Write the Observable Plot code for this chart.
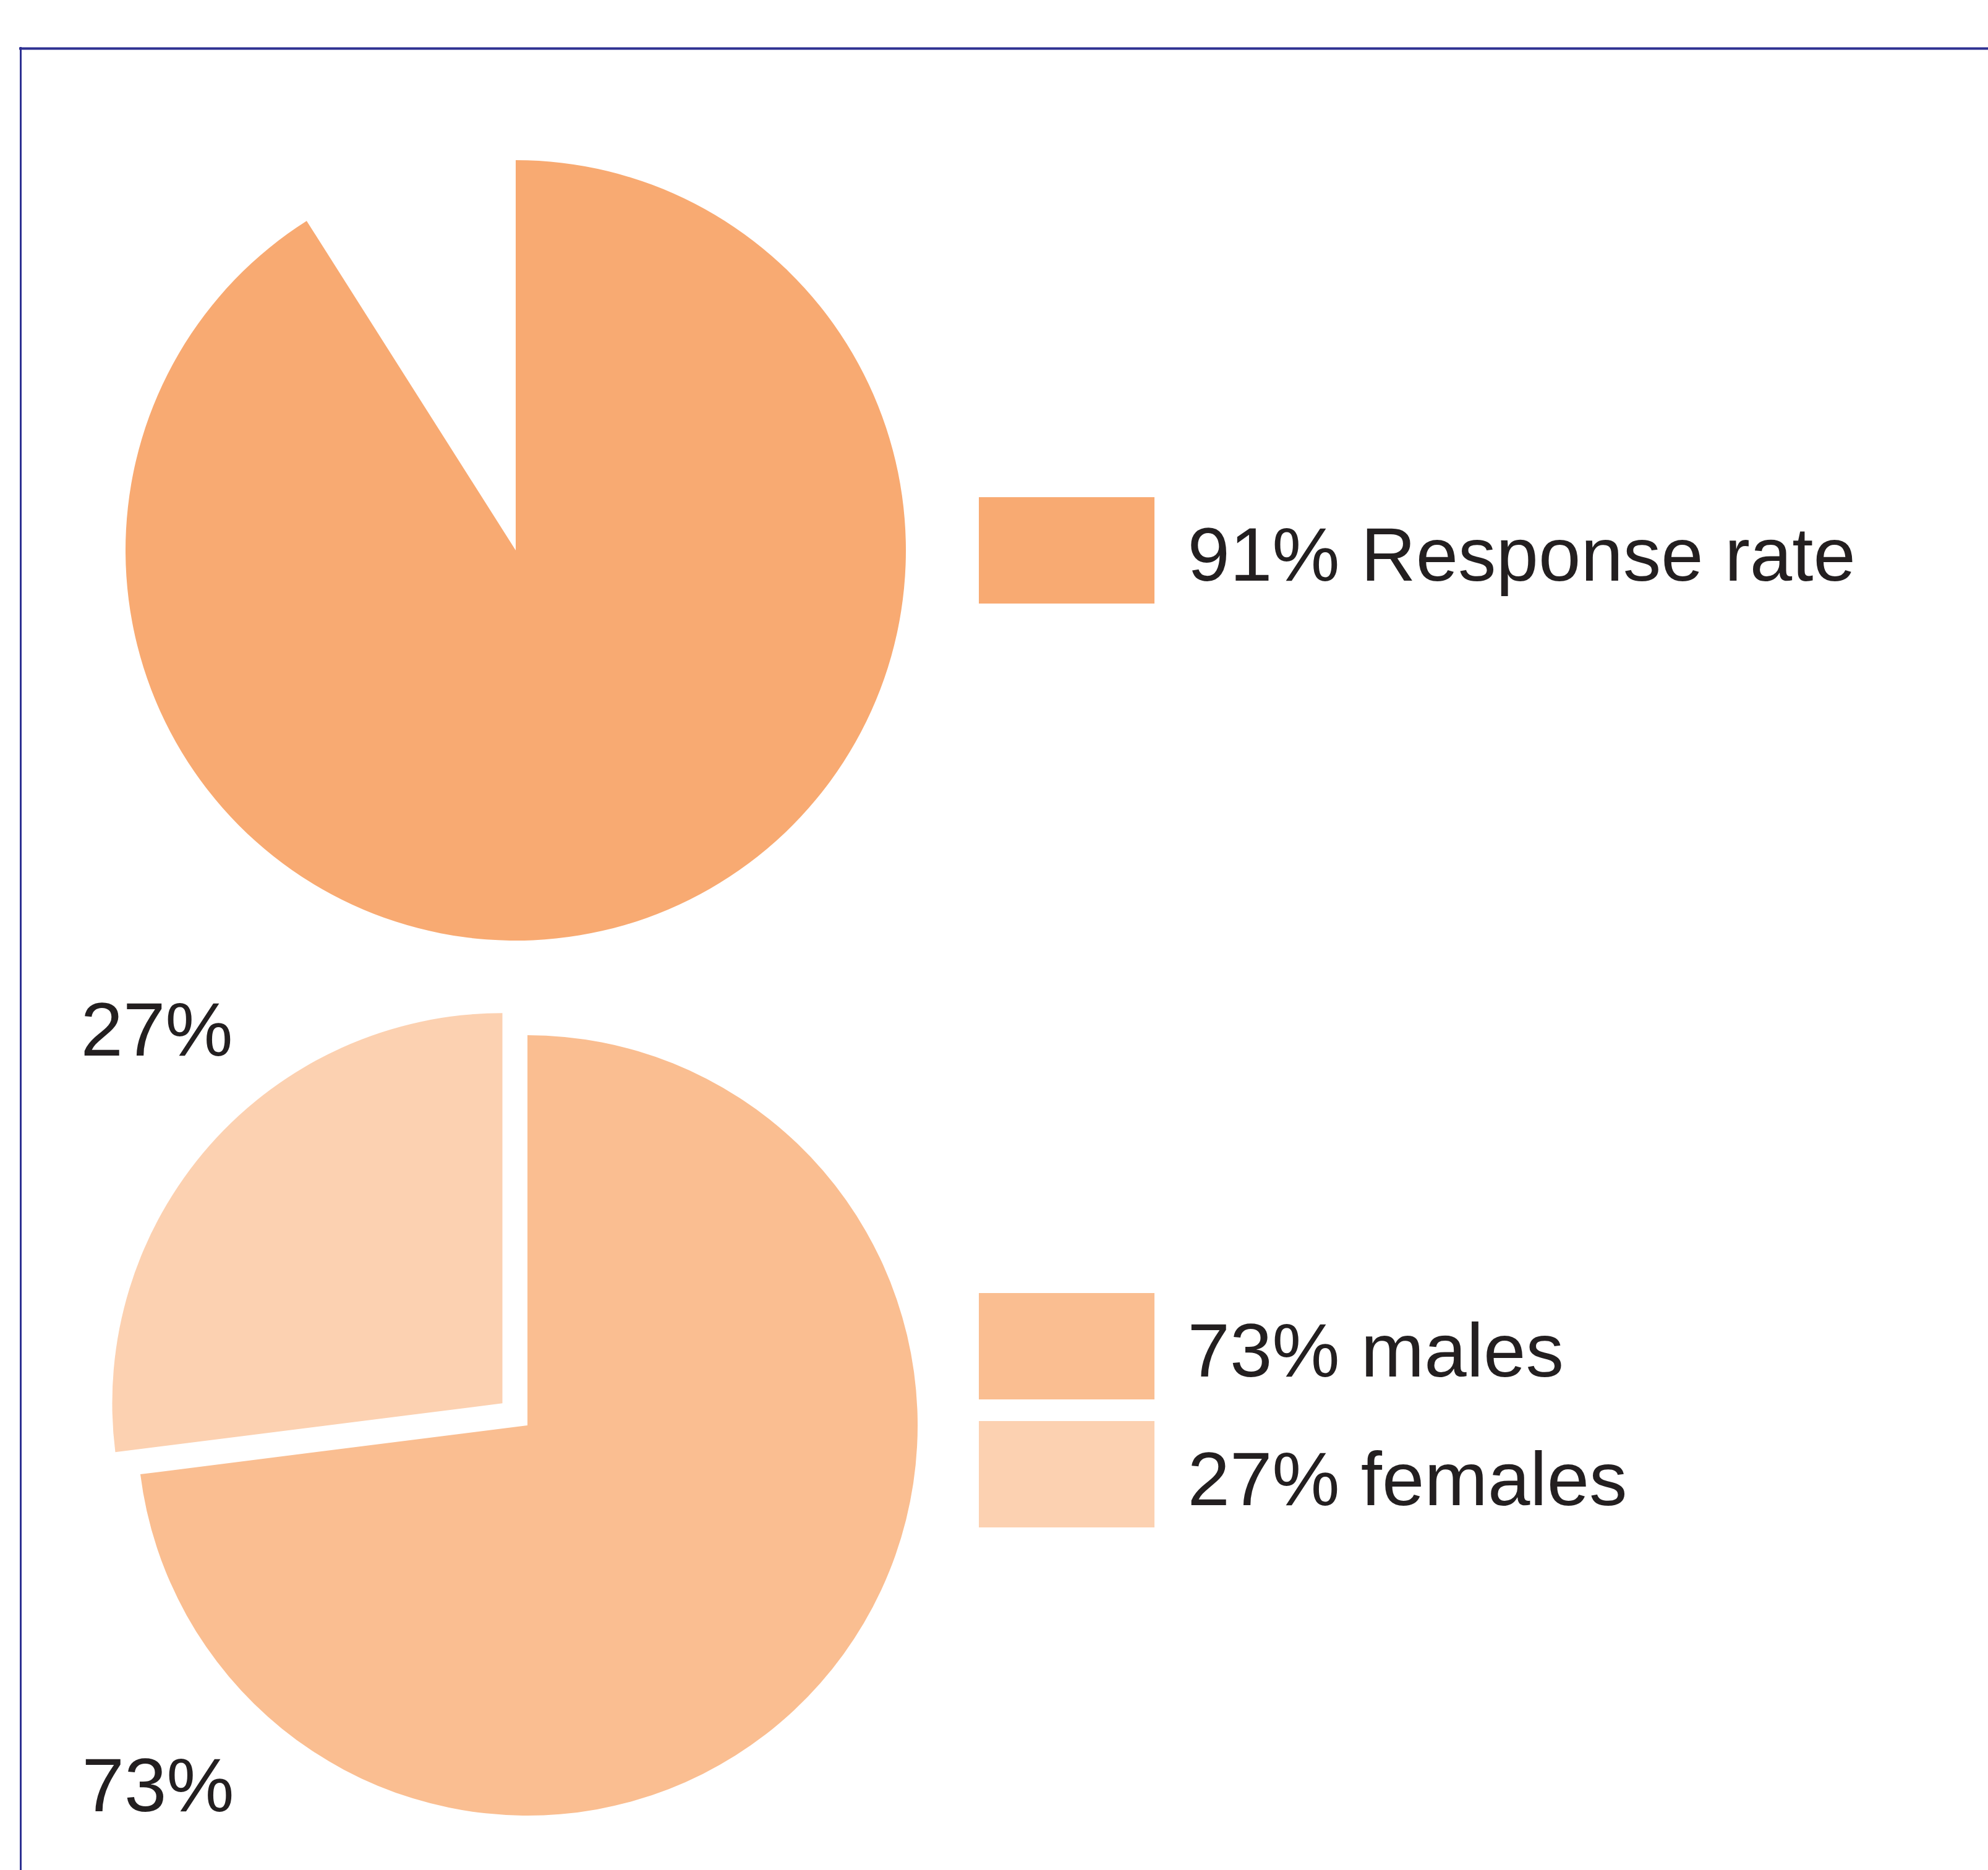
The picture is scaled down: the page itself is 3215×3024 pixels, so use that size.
<!DOCTYPE html>
<html><head><meta charset="utf-8">
<script src="https://cdn.jsdelivr.net/npm/d3@7"></script>
<script src="https://cdn.jsdelivr.net/npm/@observablehq/plot@0.6"></script>
<style>html,body{margin:0;padding:0;background:#fff;} #chart svg{display:block;}</style>
</head><body><div id="chart"></div>
<script>
// ---- data ----
const responseLabels = ["Response rate", "Non-response"];
const responseValues = [91, 9];
const genderLabels = ["males", "females"];
const genderValues = [73, 27];

// ---- layout / style ----
const W = 3215, H = 3024;
const FONT = "Liberation Sans, Arial, Helvetica, sans-serif";
const TEXT = "#231F20";
const FRAME = "#2E3192";
const responseColors = ["#F8AA72", null];
const genderColors = ["#FABE91", "#FCD1B1"];
const pie1 = {cx: 834, cy: 890, r: 631, explode: [0, 0]};
const pie2 = {cx: 853, cy: 2305, r: 631, explode: [0, 54]};
const fontSize = 123;
const legendSwatch = {x1: 1583, x2: 1867, h: 172};
const legendTextX = 1920;
const legendRows = [
  {label: `${responseValues[0]}% ${responseLabels[0]}`, color: responseColors[0], y1: 804, baseline: 938},
  {label: `${genderValues[0]}% ${genderLabels[0]}`, color: genderColors[0], y1: 2091, baseline: 2225},
  {label: `${genderValues[1]}% ${genderLabels[1]}`, color: genderColors[1], y1: 2298, baseline: 2433}
];
const pieLabelRows = [
  {text: `${genderValues[1]}%`, x: 130, y: 1706},
  {text: `${genderValues[0]}%`, x: 132, y: 2928}
];

function pieMark(values, colors, p) {
  return (index, scales, channels, dimensions, context) => {
    const doc = context.document;
    const g = d3.select(doc.createElementNS("http://www.w3.org/2000/svg", "g"));
    const arcs = d3.pie().sort(null).value(d => d)(values);
    const arc = d3.arc().innerRadius(0).outerRadius(p.r);
    arcs.forEach((a, i) => {
      if (!colors[i]) return;
      const mid = (a.startAngle + a.endAngle) / 2;
      const off = p.explode[i] || 0;
      const x = scales.x(p.cx) + Math.sin(mid) * off;
      const y = scales.y(p.cy) - Math.cos(mid) * off;
      g.append("path").attr("d", arc(a)).attr("transform", `translate(${x},${y})`).attr("fill", colors[i]);
    });
    return g.node();
  };
}

const chart = Plot.plot({
  width: W, height: H,
  margin: 0,
  x: {domain: [0, W], range: [0, W], axis: null},
  y: {domain: [0, H], range: [0, H], axis: null},
  style: {fontFamily: FONT, background: "#fff"},
  marks: [
    Plot.ruleY([78], {x1: 31, x2: W, stroke: FRAME, strokeWidth: 4}),
    Plot.ruleX([33], {y1: 76, y2: H, stroke: FRAME, strokeWidth: 3}),
    pieMark(responseValues, responseColors, pie1),
    pieMark(genderValues, genderColors, pie2),
    Plot.rect(legendRows, {x1: legendSwatch.x1, x2: legendSwatch.x2, y1: d => d.y1, y2: d => d.y1 + legendSwatch.h, fill: d => d.color}),
    Plot.text(legendRows, {x: legendTextX, y: d => d.baseline, text: d => d.label, textAnchor: "start", lineAnchor: "bottom", fontSize, fill: TEXT, fontFamily: FONT}),
    Plot.text(pieLabelRows, {x: d => d.x, y: d => d.y, text: d => d.text, textAnchor: "start", lineAnchor: "bottom", fontSize, fill: TEXT, fontFamily: FONT})
  ]
});
document.getElementById("chart").appendChild(chart);
</script>
</body></html>
